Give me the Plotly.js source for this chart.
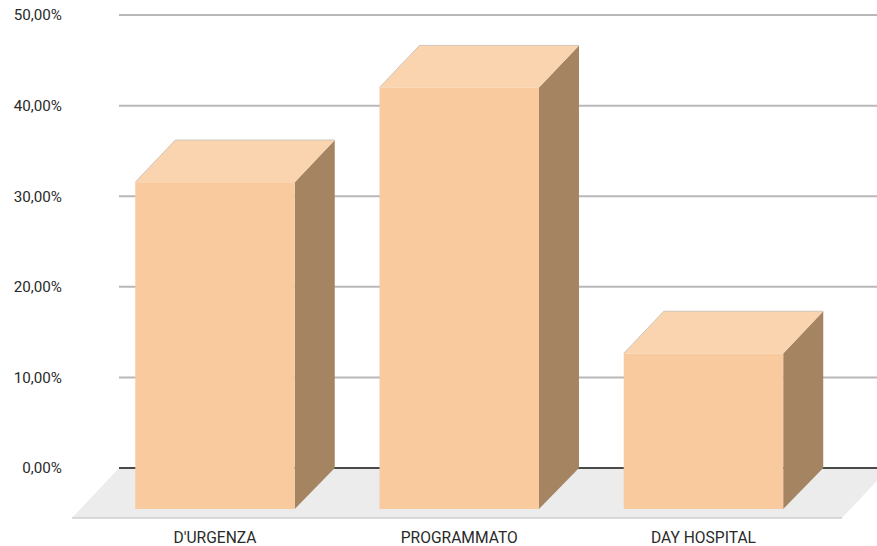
<!DOCTYPE html>
<html><head><meta charset="utf-8">
<script src="https://cdn.plot.ly/plotly-3.0.1.min.js"></script>
<style>html,body{margin:0;padding:0;background:#fff}#c{width:877px;height:546px}</style>
</head><body><div id="c"></div>
<script>
const categories = ["D'URGENZA", "PROGRAMMATO", "DAY HOSPITAL"];
const values = [36.2, 46.65, 17.3];
const yTicks = [0, 10, 20, 30, 40, 50];
const yLabels = ["0,00%", "10,00%", "20,00%", "30,00%", "40,00%", "50,00%"];

const positions = categories.map((_, i) => i);
const halfW = 0.3265, depthX = 0.1638, depthY = 4.525, topDepthY = 4.65;
const floorDX = 0.1925, floorDY = 5.52;
const xMin = -0.5855, xMax = 2.7105;
const wallLeft = xMin + floorDX;
const floorFrontRight = xMax - 0.1433;

const FRONT = '#f8ca9d', TOP = '#fad4af', SIDE = '#a58561';
function poly(x, y, fill) {
  return {type: 'scatter', mode: 'none', x, y, fill: 'toself', fillcolor: fill,
    hoverinfo: 'skip', showlegend: false};
}
function seg(x, y, color, width) {
  return {type: 'scatter', mode: 'lines', x, y, line: {color, width}, hoverinfo: 'skip', showlegend: false};
}
const traces = [];
// floor
traces.push(poly([xMin, floorFrontRight, floorFrontRight + floorDX, wallLeft, xMin], [-floorDY, -floorDY, 0, 0, -floorDY], '#ececec'));
traces.push(seg([xMin, floorFrontRight], [-floorDY, -floorDY], '#bdbdbd', 1));
// back-wall gridlines
yTicks.forEach(t => traces.push(seg([wallLeft, xMax], [t, t], t === 0 ? '#4a4a4a' : '#b8b8b8', 2)));
// bars: the value is read at the back plane, the front face is shifted forward
values.forEach((v, i) => {
  const x0 = positions[i] - halfW, x1 = positions[i] + halfW;
  const bot = -depthY, top = v - topDepthY;
  traces.push(poly([x1, x1 + depthX, x1 + depthX, x1, x1], [bot, 0, v, top, bot], SIDE));
  traces.push(poly([x0, x0 + depthX, x1 + depthX, x1, x0], [top, v, v, top, top], TOP));
  traces.push(seg([x0, x0 + depthX, x1 + depthX], [top, v, v], '#cfc6bb', 1));
  traces.push(poly([x0, x1, x1, x0, x0], [bot, bot, top, top, bot], FRONT));
});

const yFont = {family: 'Roboto, sans-serif', size: 15.2, color: '#2a2a2a'};
const xFont = {family: 'Roboto, sans-serif', size: 15.6, color: '#2a2a2a'};
Plotly.newPlot('c', traces, {
  width: 877, height: 546, showlegend: false,
  paper_bgcolor: '#fff', plot_bgcolor: 'rgba(0,0,0,0)',
  margin: {l: 72, r: 0, t: 0, b: 27, pad: 0},
  xaxis: {range: [xMin, xMax], tickmode: 'array', tickvals: positions, ticktext: categories,
    showgrid: false, zeroline: false, showline: false, ticks: '', tickfont: xFont, ticklabelstandoff: 7},
  yaxis: {range: [-5.63, 51.66], tickmode: 'array', tickvals: yTicks, ticktext: yLabels,
    showgrid: false, zeroline: false, showline: false, ticks: '', tickfont: yFont, ticklabelstandoff: 9}
}, {displayModeBar: false, staticPlot: true});
</script></body></html>
